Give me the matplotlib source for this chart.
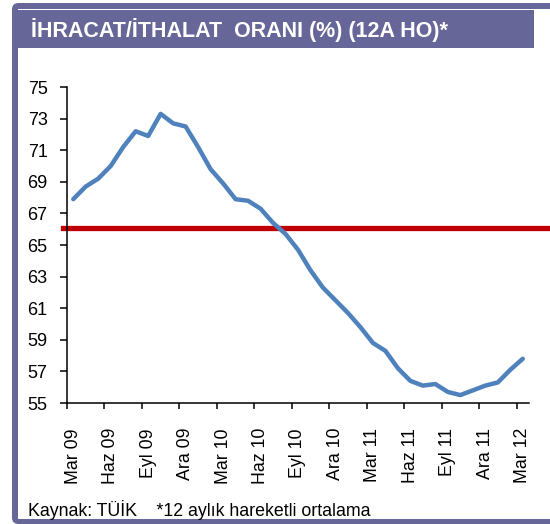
import numpy as np
from matplotlib import pyplot as plt
from matplotlib.patches import Rectangle, FancyBboxPatch

plt.rcParams['font.family'] = ['Liberation Sans', 'DejaVu Sans']

# monthly 12-month moving average export/import ratio, Mar 09 .. Mar 12
months = ['Mar 09', 'Nis 09', 'May 09', 'Haz 09', 'Tem 09', 'Ağu 09', 'Eyl 09', 'Eki 09', 'Kas 09', 'Ara 09',
          'Oca 10', 'Şub 10', 'Mar 10', 'Nis 10', 'May 10', 'Haz 10', 'Tem 10', 'Ağu 10', 'Eyl 10', 'Eki 10',
          'Kas 10', 'Ara 10', 'Oca 11', 'Şub 11', 'Mar 11', 'Nis 11', 'May 11', 'Haz 11', 'Tem 11', 'Ağu 11',
          'Eyl 11', 'Eki 11', 'Kas 11', 'Ara 11', 'Oca 12', 'Şub 12', 'Mar 12']
ratio = [67.9, 68.7, 69.2, 70.0, 71.2, 72.2, 71.9, 73.3, 72.7, 72.5,
         71.2, 69.8, 68.9, 67.9, 67.8, 67.3, 66.4, 65.7, 64.7, 63.4,
         62.3, 61.5, 60.7, 59.8, 58.8, 58.3, 57.2, 56.4, 56.1, 56.2,
         55.7, 55.5, 55.8, 56.1, 56.3, 57.1, 57.8]
average_level = 66.1

W, H = 550, 524
fig = plt.figure(figsize=(W / 100, H / 100), dpi=100)
purple = '#666699'


def box(x, y, w, h, **kw):   # pixel box (top-left origin) -> figure fraction
    return Rectangle((x / W, 1 - (y + h) / H), w / W, h / H, transform=fig.transFigure, **kw)


# frame and title banner
outer = FancyBboxPatch((12 / W, 0), 1, 1 - 3 / H, boxstyle='round,pad=0,rounding_size=0.012',
                       transform=fig.transFigure, fc=purple, ec='none', zorder=-3)
fig.add_artist(outer)
fig.add_artist(box(18, 9, 560, 510, fc='white', ec='none', zorder=-2))
fig.add_artist(box(12, 10.5, 522, 37.5, fc=purple, ec='none', zorder=-1))
fig.text(31 / W, 1 - 30 / H, 'İHRACAT/İTHALAT  ORANI (%) (12A HO)*', color='white',
         fontsize=15.5, fontweight='bold', va='center', ha='left')
fig.text(28 / W, 1 - 510 / H, 'Kaynak: TÜİK    *12 aylık hareketli ortalama',
         fontsize=12.8, va='center', ha='left')

ax = fig.add_axes([67 / W, 1 - 403 / H, 462 / W, 316 / H])
ax.set_facecolor('none')
x = np.arange(len(months))
ax.plot(x, ratio, color='#4F81BD', lw=3.2, solid_joinstyle='round', solid_capstyle='round', zorder=3)
ax.axhline(average_level, xmin=-0.009, xmax=1.05, color='#C00000', lw=3.8, clip_on=False, zorder=2)

ax.set_xlim(-0.5, len(months) - 0.5)
ax.set_ylim(55, 75)
ax.set_yticks(np.arange(55, 76, 2))
ax.tick_params(axis='y', length=5, width=1.1, pad=9, labelsize=13)

ax.set_xticks(np.arange(-0.5, len(months) - 1, 3))
ax.set_xticklabels([])
ax.set_xticks(x[::3], minor=True)
ax.set_xticklabels(months[::3], minor=True, rotation=90)
ax.tick_params(axis='x', which='major', length=4, width=1.1)
ax.tick_params(axis='x', which='minor', length=0, pad=18, labelsize=12.8)

for s in ['top', 'right']:
    ax.spines[s].set_visible(False)
for s in ['left', 'bottom']:
    ax.spines[s].set_linewidth(1.1)

plt.savefig('out.png', dpi=100)
